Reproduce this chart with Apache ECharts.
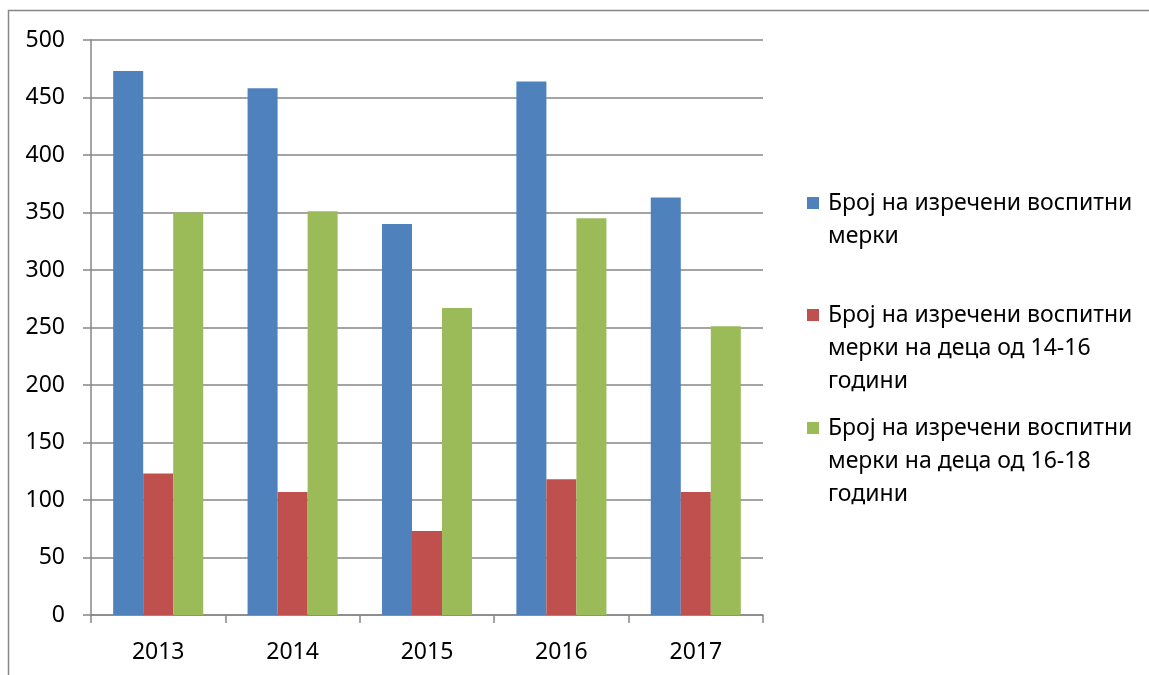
<!DOCTYPE html>
<html>
<head>
<meta charset="utf-8">
<script src="https://cdn.jsdelivr.net/npm/echarts@6/dist/echarts.min.js"></script>
<style>
html,body{margin:0;padding:0;background:#fff;}
#main{width:1149px;height:675px;}
</style>
</head>
<body>
<div id="main"></div>
<script>
const categories = ['2013', '2014', '2015', '2016', '2017'];
const seriesNames = [
  'Број на изречени воспитни мерки',
  'Број на изречени воспитни мерки на деца од 14-16 години',
  'Број на изречени воспитни мерки на деца од 16-18 години'
];
const legendLabels = [
  ['Број на изречени воспитни', 'мерки'],
  ['Број на изречени воспитни', 'мерки на деца од 14-16', 'години'],
  ['Број на изречени воспитни', 'мерки на деца од 16-18', 'години']
];
const totalMeasures = [473, 458, 340, 464, 363];
const measures14to16 = [123, 107, 73, 118, 107];
const measures16to18 = [350, 351, 267, 345, 251];
const colors = ['#4F81BD', '#C0504D', '#9BBB59'];
const yTicks = [0, 50, 100, 150, 200, 250, 300, 350, 400, 450, 500];

const FONT = 'Noto Sans';
const FS = 23;
const chart = echarts.init(document.getElementById('main'), null, {renderer: 'canvas'});

const values = [totalMeasures, measures14to16, measures16to18];
const legendTop = [203, 315, 428];
const lineH = 33;
const graphics = [{
  type: 'rect',
  shape: {x: 8.5, y: 10.5, width: 1300, height: 800},
  style: {fill: 'none', stroke: '#868686', lineWidth: 1.5},
  silent: true
}];
legendLabels.forEach((lines, i) => {
  graphics.push({
    type: 'rect',
    shape: {x: 807, y: legendTop[i] - 6, width: 12, height: 12},
    style: {fill: colors[i]}
  });
  lines.forEach((t, j) => {
    graphics.push({
      type: 'text',
      x: 828,
      y: legendTop[i] + j * lineH,
      style: {text: t, font: FS + 'px "' + FONT + '"', fill: '#000', textVerticalAlign: 'middle', textAlign: 'left'}
    });
  });
});

chart.setOption({
  animation: false,
  color: colors,
  grid: {left: 91, right: 386, top: 40, bottom: 60, containLabel: false},
  legend: {show: false, data: seriesNames},
  xAxis: {
    type: 'category',
    data: categories,
    axisLine: {lineStyle: {color: '#868686', width: 1.5}},
    axisTick: {show: true, length: 8, inside: false, alignWithLabel: false, lineStyle: {color: '#868686', width: 1.5}},
    axisLabel: {color: '#000', fontSize: FS, fontFamily: FONT, margin: 26}
  },
  yAxis: {
    type: 'value',
    min: yTicks[0],
    max: yTicks[yTicks.length - 1],
    interval: yTicks[1] - yTicks[0],
    axisLine: {show: true, lineStyle: {color: '#868686', width: 1.5}},
    axisTick: {show: true, length: 8, lineStyle: {color: '#868686', width: 1.5}},
    axisLabel: {color: '#000', fontSize: FS, fontFamily: FONT, margin: 26, padding: [5, 0, 0, 0]},
    splitLine: {show: true, lineStyle: {color: '#868686', width: 1.5}}
  },
  series: seriesNames.map((name, i) => ({
    name: name,
    type: 'bar',
    data: values[i],
    barGap: '0%',
    barCategoryGap: '33%',
    itemStyle: {color: colors[i]}
  })),
  graphic: graphics
});
</script>
</body>
</html>
